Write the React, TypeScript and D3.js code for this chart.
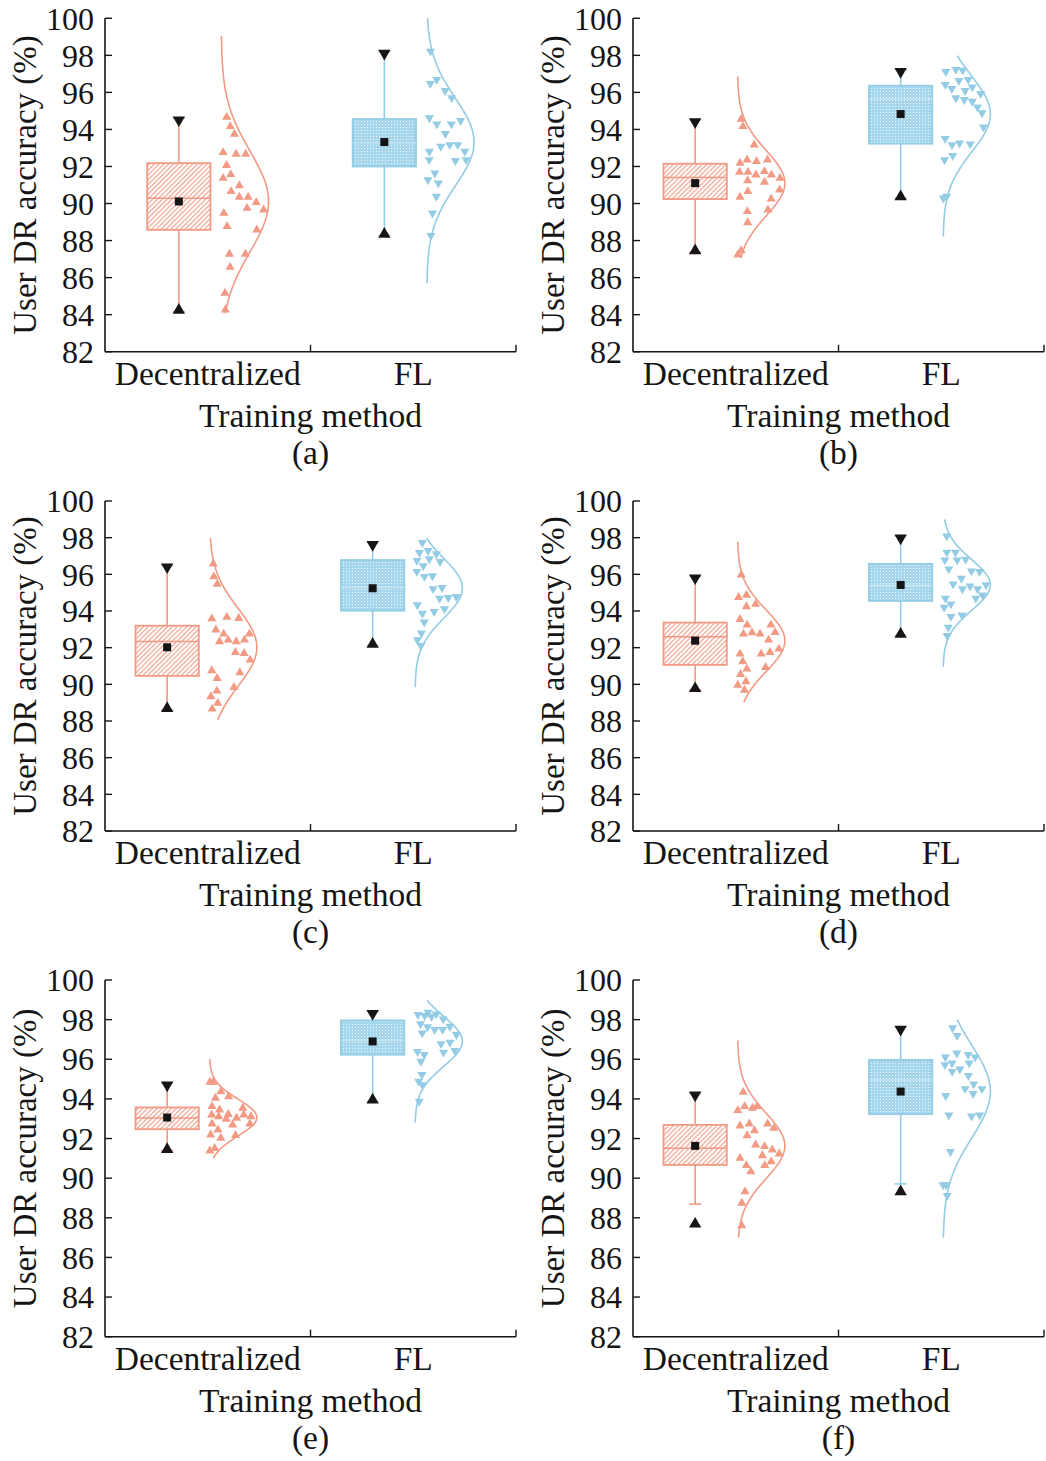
import React from 'react';
import * as d3 from 'd3';

const categories = ['Decentralized', 'FL'];
const panelLabels = ['(a)', '(b)', '(c)', '(d)', '(e)', '(f)'];
const yTicks = [82, 84, 86, 88, 90, 92, 94, 96, 98, 100];
const xTitle = 'Training method';
const yTitle = 'User DR accuracy (%)';

// Per-user accuracies, Decentralized
const decA = [94.66, 94.16, 93.75, 92.67, 92.67, 92.76, 92.06, 91.57, 91.37, 90.96, 90.65, 90.35, 90.35, 90.06, 89.75, 89.66, 89.48, 88.76, 88.58, 87.27, 87.27, 86.56, 85.16, 84.26];
const decB = [94.56, 94.16, 93.17, 92.36, 92.27, 92.18, 92.36, 91.7, 91.7, 91.55, 91.24, 91.16, 91.37, 91.55, 91.73, 90.74, 90.35, 90.25, 90.65, 89.57, 89.66, 88.97, 87.46, 87.23];
const decC = [96.57, 95.87, 95.46, 93.6, 93.66, 93.58, 92.97, 92.75, 92.75, 92.42, 92.33, 92.33, 92.42, 91.69, 91.75, 91.33, 90.75, 90.64, 90.33, 89.64, 89.84, 89.33, 88.97, 88.66];
const decD = [95.97, 94.87, 94.75, 94.37, 94.24, 93.55, 93.24, 93.24, 92.82, 92.75, 92.75, 92.84, 92.42, 91.75, 91.66, 91.93, 91.66, 91.24, 90.93, 90.84, 90.55, 90.15, 89.96, 89.69];
const decE = [94.85, 94.85, 94.37, 94.12, 94.04, 93.62, 93.54, 93.45, 93.2, 93.22, 93.11, 93.03, 93.2, 93.11, 92.98, 92.74, 92.74, 92.69, 92.44, 92.19, 92.16, 92.02, 91.51, 91.38];
const decF = [94.34, 93.54, 93.62, 93.42, 93.62, 92.64, 92.74, 92.52, 92.74, 92.4, 92.15, 91.6, 91.68, 91.43, 91.14, 91.23, 91.01, 90.84, 90.64, 90.64, 90.33, 89.32, 88.74, 87.61];

// Per-user accuracies, FL
const flA = [98.22, 96.69, 96.47, 96.09, 95.7, 94.62, 94.47, 94.29, 94.29, 93.77, 93.17, 93.08, 93.17, 92.81, 92.81, 92.36, 92.36, 92.31, 91.64, 91.28, 91.1, 90.38, 89.48, 88.27];
const flB = [97.23, 97.12, 97.19, 96.69, 96.63, 96.42, 96.29, 96.2, 96.09, 95.93, 95.61, 95.7, 95.51, 95.21, 94.89, 94.13, 93.5, 93.21, 93.26, 93.17, 92.59, 92.36, 90.38, 90.29];
const flC = [97.73, 97.29, 97.18, 97.11, 96.84, 96.75, 96.69, 96.46, 96.15, 95.91, 95.88, 95.27, 95.2, 94.73, 94.69, 94.78, 94.33, 94.11, 93.87, 93.96, 93.39, 92.79, 92.42, 92.11];
const flD = [98.09, 97.2, 97.2, 96.82, 96.78, 96.78, 96.29, 96.15, 96.18, 95.78, 95.47, 95.36, 95.42, 95.2, 95.2, 94.87, 94.69, 94.69, 94.38, 94.2, 93.69, 93.78, 93.11, 92.65];
const flE = [98.36, 98.25, 98.28, 98.2, 98.16, 98.03, 97.78, 97.66, 97.63, 97.49, 97.49, 97.32, 97.24, 96.85, 96.78, 96.43, 96.39, 96.35, 96.23, 95.89, 95.22, 94.88, 94.71, 93.87];
const flF = [97.58, 97.19, 96.23, 96.31, 96.11, 96.11, 95.81, 95.81, 95.72, 95.5, 95.38, 95.17, 94.75, 94.51, 94.51, 94.26, 94.16, 93.18, 93.18, 93.13, 91.34, 89.66, 89.66, 89.12];

// Box statistics (panels a..f)
const decQ1 = [88.58, 90.24, 90.46, 91.06, 92.47, 90.67];
const decMedian = [90.29, 91.41, 92.33, 92.6, 93.03, 91.51];
const decQ3 = [92.18, 92.15, 93.2, 93.37, 93.57, 92.69];
const decMean = [90.11, 91.1, 92.02, 92.38, 93.06, 91.63];
const decWhiskerLow = [84.16, 87.37, 88.6, 89.69, 91.38, 88.69];
const decWhiskerHigh = [94.62, 94.52, 96.51, 95.91, 94.8, 94.29];
const decMin = [84.16, 87.37, 88.6, 89.69, 91.38, 87.61];
const decMax = [94.62, 94.52, 96.51, 95.91, 94.8, 94.29];
const decCurveLow = [84.08, 87.05, 88.06, 89.02, 91.01, 87.0];
const decCurveHigh = [99.03, 96.86, 97.97, 97.78, 96.01, 96.95];

const flQ1 = [92.0, 93.23, 94.02, 94.55, 96.23, 93.23];
const flMedian = [93.28, 95.64, 95.3, 95.4, 96.95, 94.96];
const flQ3 = [94.56, 96.36, 96.78, 96.57, 97.96, 95.97];
const flMean = [93.32, 94.83, 95.24, 95.42, 96.9, 94.37];
const flWhiskerLow = [88.27, 90.29, 92.11, 92.65, 93.87, 89.71];
const flWhiskerHigh = [98.22, 97.23, 97.73, 98.09, 98.41, 97.61];
const flMin = [88.27, 90.29, 92.11, 92.65, 93.87, 89.24];
const flMax = [98.22, 97.23, 97.73, 98.09, 98.41, 97.61];
const flCurveLow = [85.7, 88.22, 89.84, 90.96, 92.81, 87.0];
const flCurveHigh = [100.0, 97.98, 97.97, 99.0, 98.97, 98.0];

const decPoints = [decA, decB, decC, decD, decE, decF];
const flPoints = [flA, flB, flC, flD, flE, flF];

type GroupStats = {
  points: number[]; q1: number; median: number; q3: number; mean: number;
  wLow: number; wHigh: number; min: number; max: number; cLow: number; cHigh: number;
};

const groupsFor = (i: number): GroupStats[] => [
  { points: decPoints[i], q1: decQ1[i], median: decMedian[i], q3: decQ3[i], mean: decMean[i], wLow: decWhiskerLow[i], wHigh: decWhiskerHigh[i], min: decMin[i], max: decMax[i], cLow: decCurveLow[i], cHigh: decCurveHigh[i] },
  { points: flPoints[i], q1: flQ1[i], median: flMedian[i], q3: flQ3[i], mean: flMean[i], wLow: flWhiskerLow[i], wHigh: flWhiskerHigh[i], min: flMin[i], max: flMax[i], cLow: flCurveLow[i], cHigh: flCurveHigh[i] },
];

// ---- layout / style ----
const W = 1046;
const H = 1461;
const COL_X = [105, 633];
const ROWS = [
  { top: 18.3, bottom: 351.7 },
  { top: 501, bottom: 831 },
  { top: 980, bottom: 1336.7 },
];
const AXIS_W = 411;
const SALMON = '#F29A84';
const BLUE = '#93CCE4';
const BLUE_FILL = '#A6D6EB';
const INK = '#151515';
const FONT = '"Liberation Serif", "Times New Roman", serif';
const BOX_OFF = -40.6;
const BOX_W = 63.3;
const CAP_W = 12;
const SWARM_OFF = 1.8;
const AMP = 47.3;

function layoutSwarm(values: number[], y: (v: number) => number, base: number, widthAt: (v: number) => number) {
  const placed: { x: number; y: number }[] = [];
  const phi = 0.6180339887;
  return values.map((v, i) => {
    const yy = y(v);
    const w = widthAt(v);
    let best = { x: base, y: yy };
    let bestD = -1;
    for (let k = 0; k < 30; k++) {
      const u = ((i * 5 + k * 3 + 1) * phi) % 1;
      const x = base + u * w;
      let dmin = Infinity;
      for (const p of placed) dmin = Math.min(dmin, Math.hypot(p.x - x, p.y - yy));
      if (dmin >= 7.4) { best = { x, y: yy }; bestD = dmin; break; }
      if (dmin > bestD) { bestD = dmin; best = { x, y: yy }; }
    }
    placed.push(best);
    return best;
  });
}

const triUp = d3.symbol(d3.symbolTriangle, 36)()!;
const triBig = d3.symbol(d3.symbolTriangle, 66)()!;

function Panel({ index }: { index: number }) {
  const row = ROWS[Math.floor(index / 2)];
  const ax = COL_X[index % 2];
  const shift = index === 0 ? 11.7 : 0;
  const y = d3.scaleLinear().domain([82, 100]).range([row.bottom, row.top]);
  const x = d3.scaleBand<string>().domain(categories).range([ax, ax + AXIS_W]);
  const groups = groupsFor(index);

  return (
    <g>
      {/* axes */}
      <line x1={ax} x2={ax} y1={row.top} y2={row.bottom} stroke={INK} strokeWidth={1.6} />
      <line x1={ax} x2={ax + AXIS_W} y1={row.bottom} y2={row.bottom} stroke={INK} strokeWidth={1.6} />
      {yTicks.map((t) => (
        <g key={t}>
          <line x1={ax} x2={ax + 7} y1={y(t)} y2={y(t)} stroke={INK} strokeWidth={1.4} />
          <text x={ax - 11} y={y(t)} dy="0.35em" textAnchor="end" fontFamily={FONT} fontSize={32} fill={INK}>{t}</text>
        </g>
      ))}
      {categories.map((c) => (
        <g key={c}>
          <line x1={x(c)! + x.bandwidth()} x2={x(c)! + x.bandwidth()} y1={row.bottom} y2={row.bottom - 7} stroke={INK} strokeWidth={1.4} />
          <text x={x(c)! + x.bandwidth() / 2} y={row.bottom + 33} textAnchor="middle" fontFamily={FONT} fontSize={33.5} fill={INK}>{c}</text>
        </g>
      ))}
      <text x={ax + AXIS_W / 2} y={row.bottom + 75} textAnchor="middle" fontFamily={FONT} fontSize={33.5} fill={INK}>{xTitle}</text>
      <text x={ax + AXIS_W / 2} y={row.bottom + 112} textAnchor="middle" fontFamily={FONT} fontSize={33.5} fill={INK}>{panelLabels[index]}</text>
      <text transform={`translate(${ax - 81},${(row.top + row.bottom) / 2}) rotate(-90)`} dy="0.35em" textAnchor="middle" fontFamily={FONT} fontSize={33} fill={INK}>{yTitle}</text>

      {groups.map((g, gi) => {
        const color = gi === 0 ? SALMON : BLUE;
        const center = x(categories[gi])! + x.bandwidth() / 2 + shift;
        const bx = center + BOX_OFF;
        const base = center + SWARM_OFF;
        const sd = d3.deviation(g.points)!;
        const offset = (v: number) => AMP * Math.exp(-((v - g.mean) ** 2) / (2 * sd * sd));
        const curveVals = d3.range(g.cLow, g.cHigh + 0.001, (g.cHigh - g.cLow) / 200);
        const curve = d3.line<number>().x((v) => base + offset(v)).y((v) => y(v)).curve(d3.curveBasis)(curveVals)!;
        const pts = layoutSwarm(g.points, y, base, (v) => Math.max(offset(v) - 3, 6));
        return (
          <g key={gi}>
            {/* whiskers */}
            <line x1={bx} x2={bx} y1={y(g.wHigh)} y2={y(g.q3)} stroke={color} strokeWidth={1.6} />
            <line x1={bx} x2={bx} y1={y(g.q1)} y2={y(g.wLow)} stroke={color} strokeWidth={1.6} />
            <line x1={bx - CAP_W / 2} x2={bx + CAP_W / 2} y1={y(g.wHigh)} y2={y(g.wHigh)} stroke={color} strokeWidth={1.6} />
            <line x1={bx - CAP_W / 2} x2={bx + CAP_W / 2} y1={y(g.wLow)} y2={y(g.wLow)} stroke={color} strokeWidth={1.6} />
            {/* box */}
            <rect x={bx - BOX_W / 2} y={y(g.q3)} width={BOX_W} height={y(g.q1) - y(g.q3)}
              fill={gi === 0 ? 'url(#hatch)' : 'url(#dots)'} stroke={color} strokeWidth={1.8} />
            <line x1={bx - BOX_W / 2} x2={bx + BOX_W / 2} y1={y(g.median)} y2={y(g.median)} stroke={gi === 0 ? color : '#C4E4F2'} strokeWidth={1.5} />
            {/* mean */}
            <rect x={bx - 4} y={y(g.mean) - 4} width={8} height={8} fill={INK} />
            {/* min / max */}
            <path d={triBig} transform={`translate(${bx},${y(g.max) + 2}) rotate(180)`} fill={INK} />
            <path d={triBig} transform={`translate(${bx},${y(g.min) - 1.5})`} fill={INK} />
            {/* curve */}
            <path d={curve} fill="none" stroke={color} strokeWidth={1.6} />
            {/* points */}
            {pts.map((p, pi) => (
              <path key={pi} d={triUp} transform={`translate(${p.x},${p.y})${gi === 1 ? ' rotate(180)' : ''}`} fill={color} />
            ))}
          </g>
        );
      })}
    </g>
  );
}

export default function App() {
  return (
    <svg width={W} height={H} viewBox={`0 0 ${W} ${H}`} style={{ position: 'absolute', left: 0, top: 0, background: '#fff' }}>
      <defs>
        <pattern id="hatch" patternUnits="userSpaceOnUse" width={3.4} height={3.4} patternTransform="rotate(45)">
          <rect width={3.4} height={3.4} fill="#fff" />
          <line x1={0.6} x2={0.6} y1={0} y2={3.4} stroke={SALMON} strokeWidth={1.1} />
        </pattern>
        <pattern id="dots" patternUnits="userSpaceOnUse" width={3} height={3}>
          <rect width={3} height={3} fill={BLUE_FILL} />
          <rect x={1} y={1} width={1} height={1} fill="#fff" opacity={0.8} />
        </pattern>
      </defs>
      <rect width={W} height={H} fill="#fff" />
      {panelLabels.map((_, i) => <Panel key={i} index={i} />)}
    </svg>
  );
}
